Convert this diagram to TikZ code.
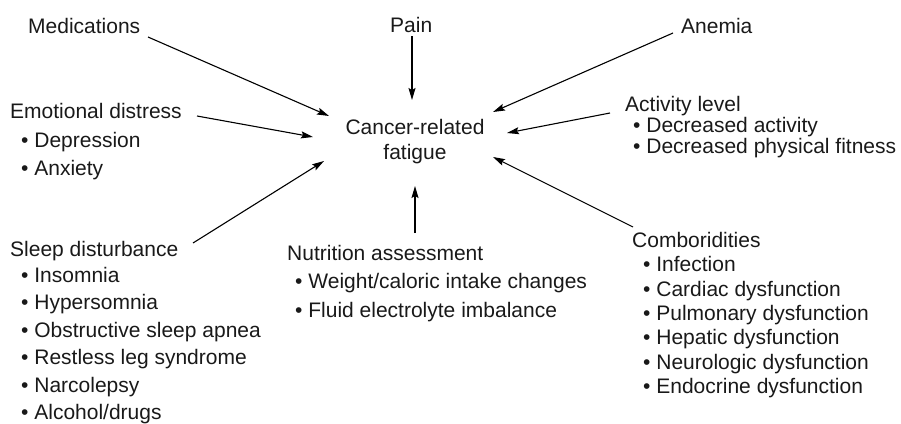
\documentclass[tikz,border=0pt]{standalone}
\usepackage{fontspec}
\setmainfont{Liberation Sans}
\usetikzlibrary{arrows.meta}
\tikzset{
  lbl/.style={anchor=base west, inner sep=0pt, font=\fontsize{21}{24}\selectfont, text=black!90},
  ctr/.style={anchor=base, inner sep=0pt, font=\fontsize{21}{24}\selectfont, text=black!90},
  arr/.style={line width=1.1pt, -{Stealth[length=12pt,width=7pt,inset=2pt]}}
}
\begin{document}
\begin{tikzpicture}[x=1pt,y=-1pt]
\useasboundingbox (0,0) rectangle (901,423);
% centre
\node[ctr] (c1) at (415,134) {Cancer-related};
\node[ctr] (c2) at (415,159) {fatigue};
% top
\node[lbl] (med) at (28,33) {Medications};
\node[lbl] (pain) at (390,32) {Pain};
\node[lbl] (anem) at (681,33) {Anemia};
% emotional
\node[lbl] (emo) at (10,118) {Emotional distress};
\node[lbl] (emo1) at (21,147) {• Depression};
\node[lbl] (emo2) at (21,175) {• Anxiety};
% activity
\node[lbl] (act) at (625,111) {Activity level};
\node[lbl] (act1) at (633,132) {• Decreased activity};
\node[lbl] (act2) at (633,153) {• Decreased physical fitness};
% sleep
\node[lbl] (slp) at (10,256) {Sleep disturbance};
\node[lbl] (slp1) at (21,282) {• Insomnia};
\node[lbl] (slp2) at (21,309) {• Hypersomnia};
\node[lbl] (slp3) at (21,337) {• Obstructive sleep apnea};
\node[lbl] (slp4) at (21,364) {• Restless leg syndrome};
\node[lbl] (slp5) at (21,392) {• Narcolepsy};
\node[lbl] (slp6) at (21,419) {• Alcohol/drugs};
% nutrition
\node[lbl] (nut) at (287,260) {Nutrition assessment};
\node[lbl] (nut1) at (295,288) {• Weight/caloric intake changes};
\node[lbl] (nut2) at (295,317) {• Fluid electrolyte imbalance};
% comorbidities
\node[lbl] (com) at (632,247) {Comboridities};
\node[lbl] (com1) at (643,271) {• Infection};
\node[lbl] (com2) at (643,296) {• Cardiac dysfunction};
\node[lbl] (com3) at (643,320) {• Pulmonary dysfunction};
\node[lbl] (com4) at (643,344) {• Hepatic dysfunction};
\node[lbl] (com5) at (643,369) {• Neurologic dysfunction};
\node[lbl] (com6) at (643,393) {• Endocrine dysfunction};
% connector end points
\coordinate (medS) at (148,37);   \coordinate (medT) at (329,116);
\coordinate (painS) at (412,36);  \coordinate (painT) at (412,100);
\coordinate (emoS) at (197,116);  \coordinate (emoT) at (313,137);
\coordinate (slpS) at (193,243);  \coordinate (slpT) at (324,161);
\coordinate (nutS) at (415,233);  \coordinate (nutT) at (415,186);
\coordinate (anemS) at (673,33);  \coordinate (anemT) at (493,112);
\coordinate (actS) at (610,113);  \coordinate (actT) at (507,133);
\coordinate (comS) at (633,227);  \coordinate (comT) at (493,157);
\draw[arr] (medS) -- (medT);
\draw[arr] (painS) -- (painT);
\draw[arr] (emoS) -- (emoT);
\draw[arr] (slpS) -- (slpT);
\draw[arr] (nutS) -- (nutT);
\draw[arr] (anemS) -- (anemT);
\draw[arr] (actS) -- (actT);
\draw[arr] (comS) -- (comT);
\end{tikzpicture}
\end{document}
